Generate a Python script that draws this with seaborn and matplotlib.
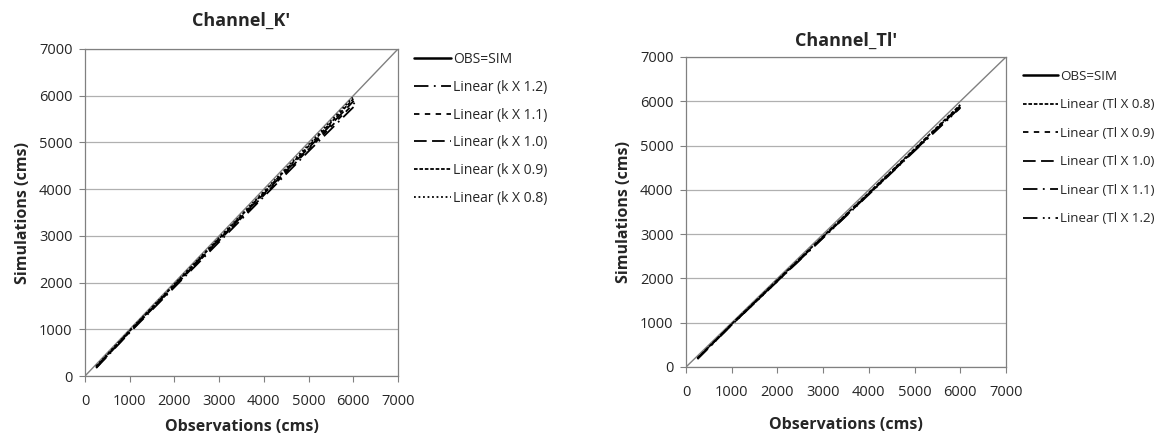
import matplotlib
matplotlib.use("Agg")
import matplotlib.pyplot as plt
from matplotlib.lines import Line2D
import seaborn as sns
import pandas as pd

sns.set_style("white")
plt.rcParams['font.family'] = ['Open Sans', 'DejaVu Sans']

# ---- data ----
ticks = [0, 1000, 2000, 3000, 4000, 5000, 6000, 7000]
diag = [0, 7000]

k_labels = ["Linear (k X 1.2)", "Linear (k X 1.1)", "Linear (k X 1.0)",
            "Linear (k X 0.9)", "Linear (k X 0.8)"]
k_x = {
    "Linear (k X 1.2)": [250, 1000, 2000, 3000, 4000, 5000, 6050],
    "Linear (k X 1.1)": [250, 1000, 2000, 3000, 4000, 5000, 6030],
    "Linear (k X 1.0)": [250, 1000, 2000, 3000, 4000, 5000, 6010],
    "Linear (k X 0.9)": [250, 1000, 2000, 3000, 4000, 5000, 6000],
    "Linear (k X 0.8)": [250, 1000, 2000, 3000, 4000, 5000, 5990],
}
k_y = {
    "Linear (k X 1.2)": [170, 930, 1900, 2870, 3840, 4810, 5800],
    "Linear (k X 1.1)": [180, 945, 1920, 2900, 3870, 4850, 5850],
    "Linear (k X 1.0)": [190, 955, 1940, 2920, 3900, 4880, 5890],
    "Linear (k X 0.9)": [200, 965, 1955, 2945, 3930, 4920, 5930],
    "Linear (k X 0.8)": [210, 975, 1970, 2960, 3950, 4950, 5960],
}

t_labels = ["Linear (Tl X 0.8)", "Linear (Tl X 0.9)", "Linear (Tl X 1.0)",
            "Linear (Tl X 1.1)", "Linear (Tl X 1.2)"]
t_x = {
    "Linear (Tl X 0.8)": [250, 1000, 2000, 3000, 4000, 5000, 6000],
    "Linear (Tl X 0.9)": [250, 1000, 2000, 3000, 4000, 5000, 6000],
    "Linear (Tl X 1.0)": [250, 1000, 2000, 3000, 4000, 5000, 6000],
    "Linear (Tl X 1.1)": [250, 1000, 2000, 3000, 4000, 5000, 6000],
    "Linear (Tl X 1.2)": [250, 1000, 2000, 3000, 4000, 5000, 6000],
}
t_y = {
    "Linear (Tl X 0.8)": [200, 970, 1965, 2950, 3935, 4925, 5920],
    "Linear (Tl X 0.9)": [195, 965, 1955, 2940, 3925, 4910, 5900],
    "Linear (Tl X 1.0)": [190, 960, 1950, 2935, 3915, 4900, 5880],
    "Linear (Tl X 1.1)": [185, 955, 1940, 2925, 3905, 4890, 5865],
    "Linear (Tl X 1.2)": [180, 950, 1935, 2915, 3895, 4880, 5850],
}

dash_dot = (0, (8, 3, 1, 3))
dash_short = (0, (3, 3))
dash_long = (0, (7, 3))
dash_fine = (0, (2, 1))
dotted = (0, (1, 1.5))
dash_dotdot = (0, (8, 3, 1, 2, 1, 3))

k_styles = {"Linear (k X 1.2)": dash_dot, "Linear (k X 1.1)": dash_short,
            "Linear (k X 1.0)": dash_long, "Linear (k X 0.9)": dash_fine,
            "Linear (k X 0.8)": dotted}
t_styles = {"Linear (Tl X 0.8)": dash_fine, "Linear (Tl X 0.9)": dash_short,
            "Linear (Tl X 1.0)": dash_long, "Linear (Tl X 1.1)": dash_dot,
            "Linear (Tl X 1.2)": dash_dotdot}

fig = plt.figure(figsize=(11.64, 4.34), dpi=100)
ax1 = fig.add_axes([85/1164, 1-376/434, 313/1164, 327/434])
ax2 = fig.add_axes([686/1164, 1-367/434, 320/1164, 310/434])

def draw(ax, labels, xs, ys, styles, title, title_pad, xlab_pad, leg_anchor, leg_fs, leg_sp):
    sns.lineplot(x=diag, y=diag, ax=ax, color="#808080", lw=1.0)
    for lab in labels:
        df = pd.DataFrame({"x": xs[lab], "y": ys[lab]})
        sns.lineplot(data=df, x="x", y="y", ax=ax, color="black", lw=1.3,
                     linestyle=styles[lab], sort=False)
    ax.set_xlim(0, 7000)
    ax.set_ylim(0, 7000)
    ax.set_xticks(ticks)
    ax.set_yticks(ticks)
    ax.tick_params(axis="both", labelsize=10.5, length=4, color="#808080",
                   direction="out", bottom=True, left=True)
    ax.tick_params(axis="x", pad=9)
    ax.tick_params(axis="y", pad=5)
    ax.yaxis.grid(True, color="#b0b0b0", lw=0.9)
    ax.xaxis.grid(False)
    for s in ax.spines.values():
        s.set_color("#808080")
        s.set_linewidth(0.9)
    ax.set_xlabel("Observations (cms)", fontsize=11.5, fontweight="bold", labelpad=xlab_pad)
    ax.set_ylabel("Simulations (cms)", fontsize=11.5, fontweight="bold", labelpad=6)
    ax.set_title(title, fontsize=13, fontweight="bold", pad=title_pad)
    handles = [Line2D([0], [0], color="black", lw=1.8, linestyle="-")]
    handles += [Line2D([0], [0], color="black", lw=1.3, linestyle=styles[l]) for l in labels]
    ax.legend(handles, ["OBS=SIM"] + labels, loc="upper left",
              bbox_to_anchor=leg_anchor, bbox_transform=fig.transFigure,
              frameon=False, fontsize=leg_fs, handlelength=2.65, handletextpad=0.15,
              labelspacing=leg_sp, borderaxespad=0, borderpad=0)

draw(ax1, k_labels, k_x, k_y, k_styles, "Channel_K'", 17, 7,
     (414/1164, 1-52/434), 10, 0.92)
draw(ax2, t_labels, t_x, t_y, t_styles, "Channel_Tl'", 8, 12,
     (1023/1164, 1-70/434), 9.6, 1.16)

fig.savefig("out.png", dpi=100)
